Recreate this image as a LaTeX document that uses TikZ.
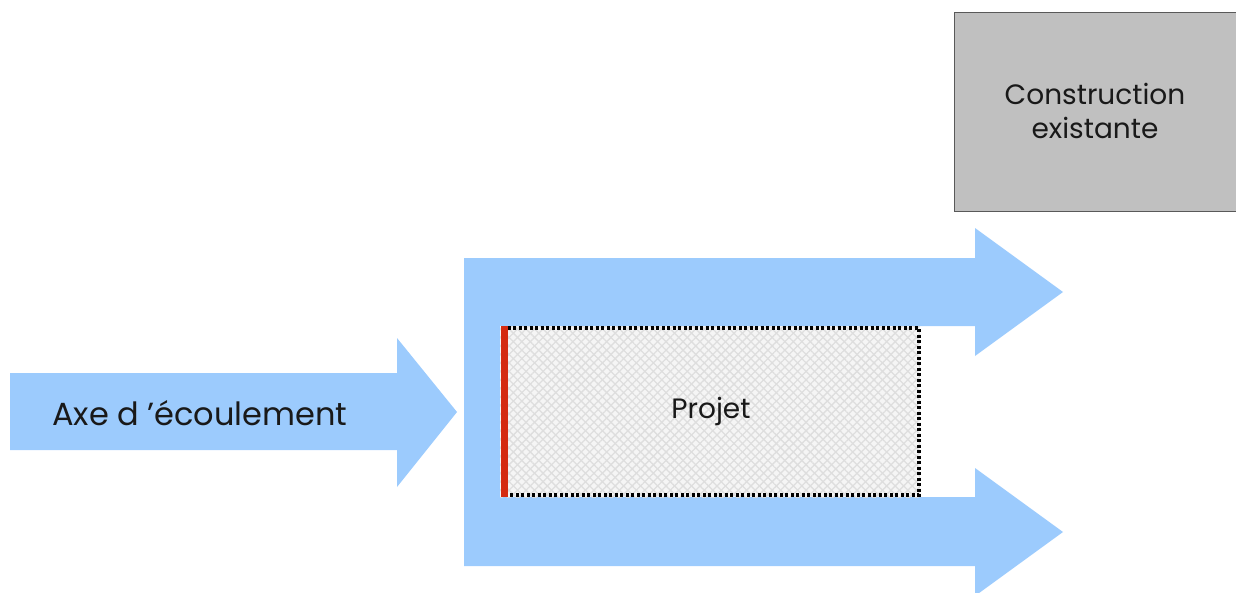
\documentclass[tikz,border=0pt]{standalone}
\usepackage{fontspec}
\setmainfont{Poppins}
\usetikzlibrary{patterns.meta}
\definecolor{flow}{HTML}{9CCBFD}
\definecolor{constr}{HTML}{C0C0C0}
\definecolor{redline}{HTML}{D42A10}
\tikzset{
  flowshape/.style={fill=flow, draw=none},
  lbl/.style={font=\fontsize{#1}{#1}\selectfont, text=black!90, inner sep=0pt},
}
\begin{document}
\begin{tikzpicture}[x=1pt,y=-1pt]
\useasboundingbox (0,0) rectangle (1236,592);
% left flow arrow
\fill[flowshape] (10,373) -- (397,373) -- (397,338) -- (457,412) -- (397,487) -- (397,450) -- (10,450) -- cycle;
% U-shaped split flow
\fill[flowshape] (464,258) -- (975,258) -- (975,228) -- (1063,292) -- (975,356) -- (975,326)
  -- (500,326) -- (500,497) -- (975,497) -- (975,468) -- (1063,532) -- (975,596) -- (975,566)
  -- (464,566) -- cycle;
% project box
\fill[black!4] (500,326) rectangle (920,497);
\fill[pattern={Lines[angle=45,distance=6pt,line width=1.3pt]}, pattern color=black!13] (500,326) rectangle (920,497);
\fill[pattern={Lines[angle=-45,distance=6pt,line width=1.3pt]}, pattern color=black!13] (500,326) rectangle (920,497);
\draw[line width=4pt, dash pattern=on 3pt off 2.5pt] (502,328) -- (919,328) -- (919,495) -- (502,495);
\draw[redline, line width=7pt] (504,326) -- (504,497);
\node[lbl=28] (projet) at (711,411) {Projet};
% existing construction
\draw[fill=constr, draw=black!65, line width=1.5pt] (954.5,12.5) rectangle (1240,211.5);
\node[lbl=28, align=center] (constr) at (1095,111) {Construction\\[6pt]existante};
% flow label
\node[lbl=32, anchor=west] (axe) at (52,413) {Axe d ’écoulement};
\end{tikzpicture}
\end{document}
